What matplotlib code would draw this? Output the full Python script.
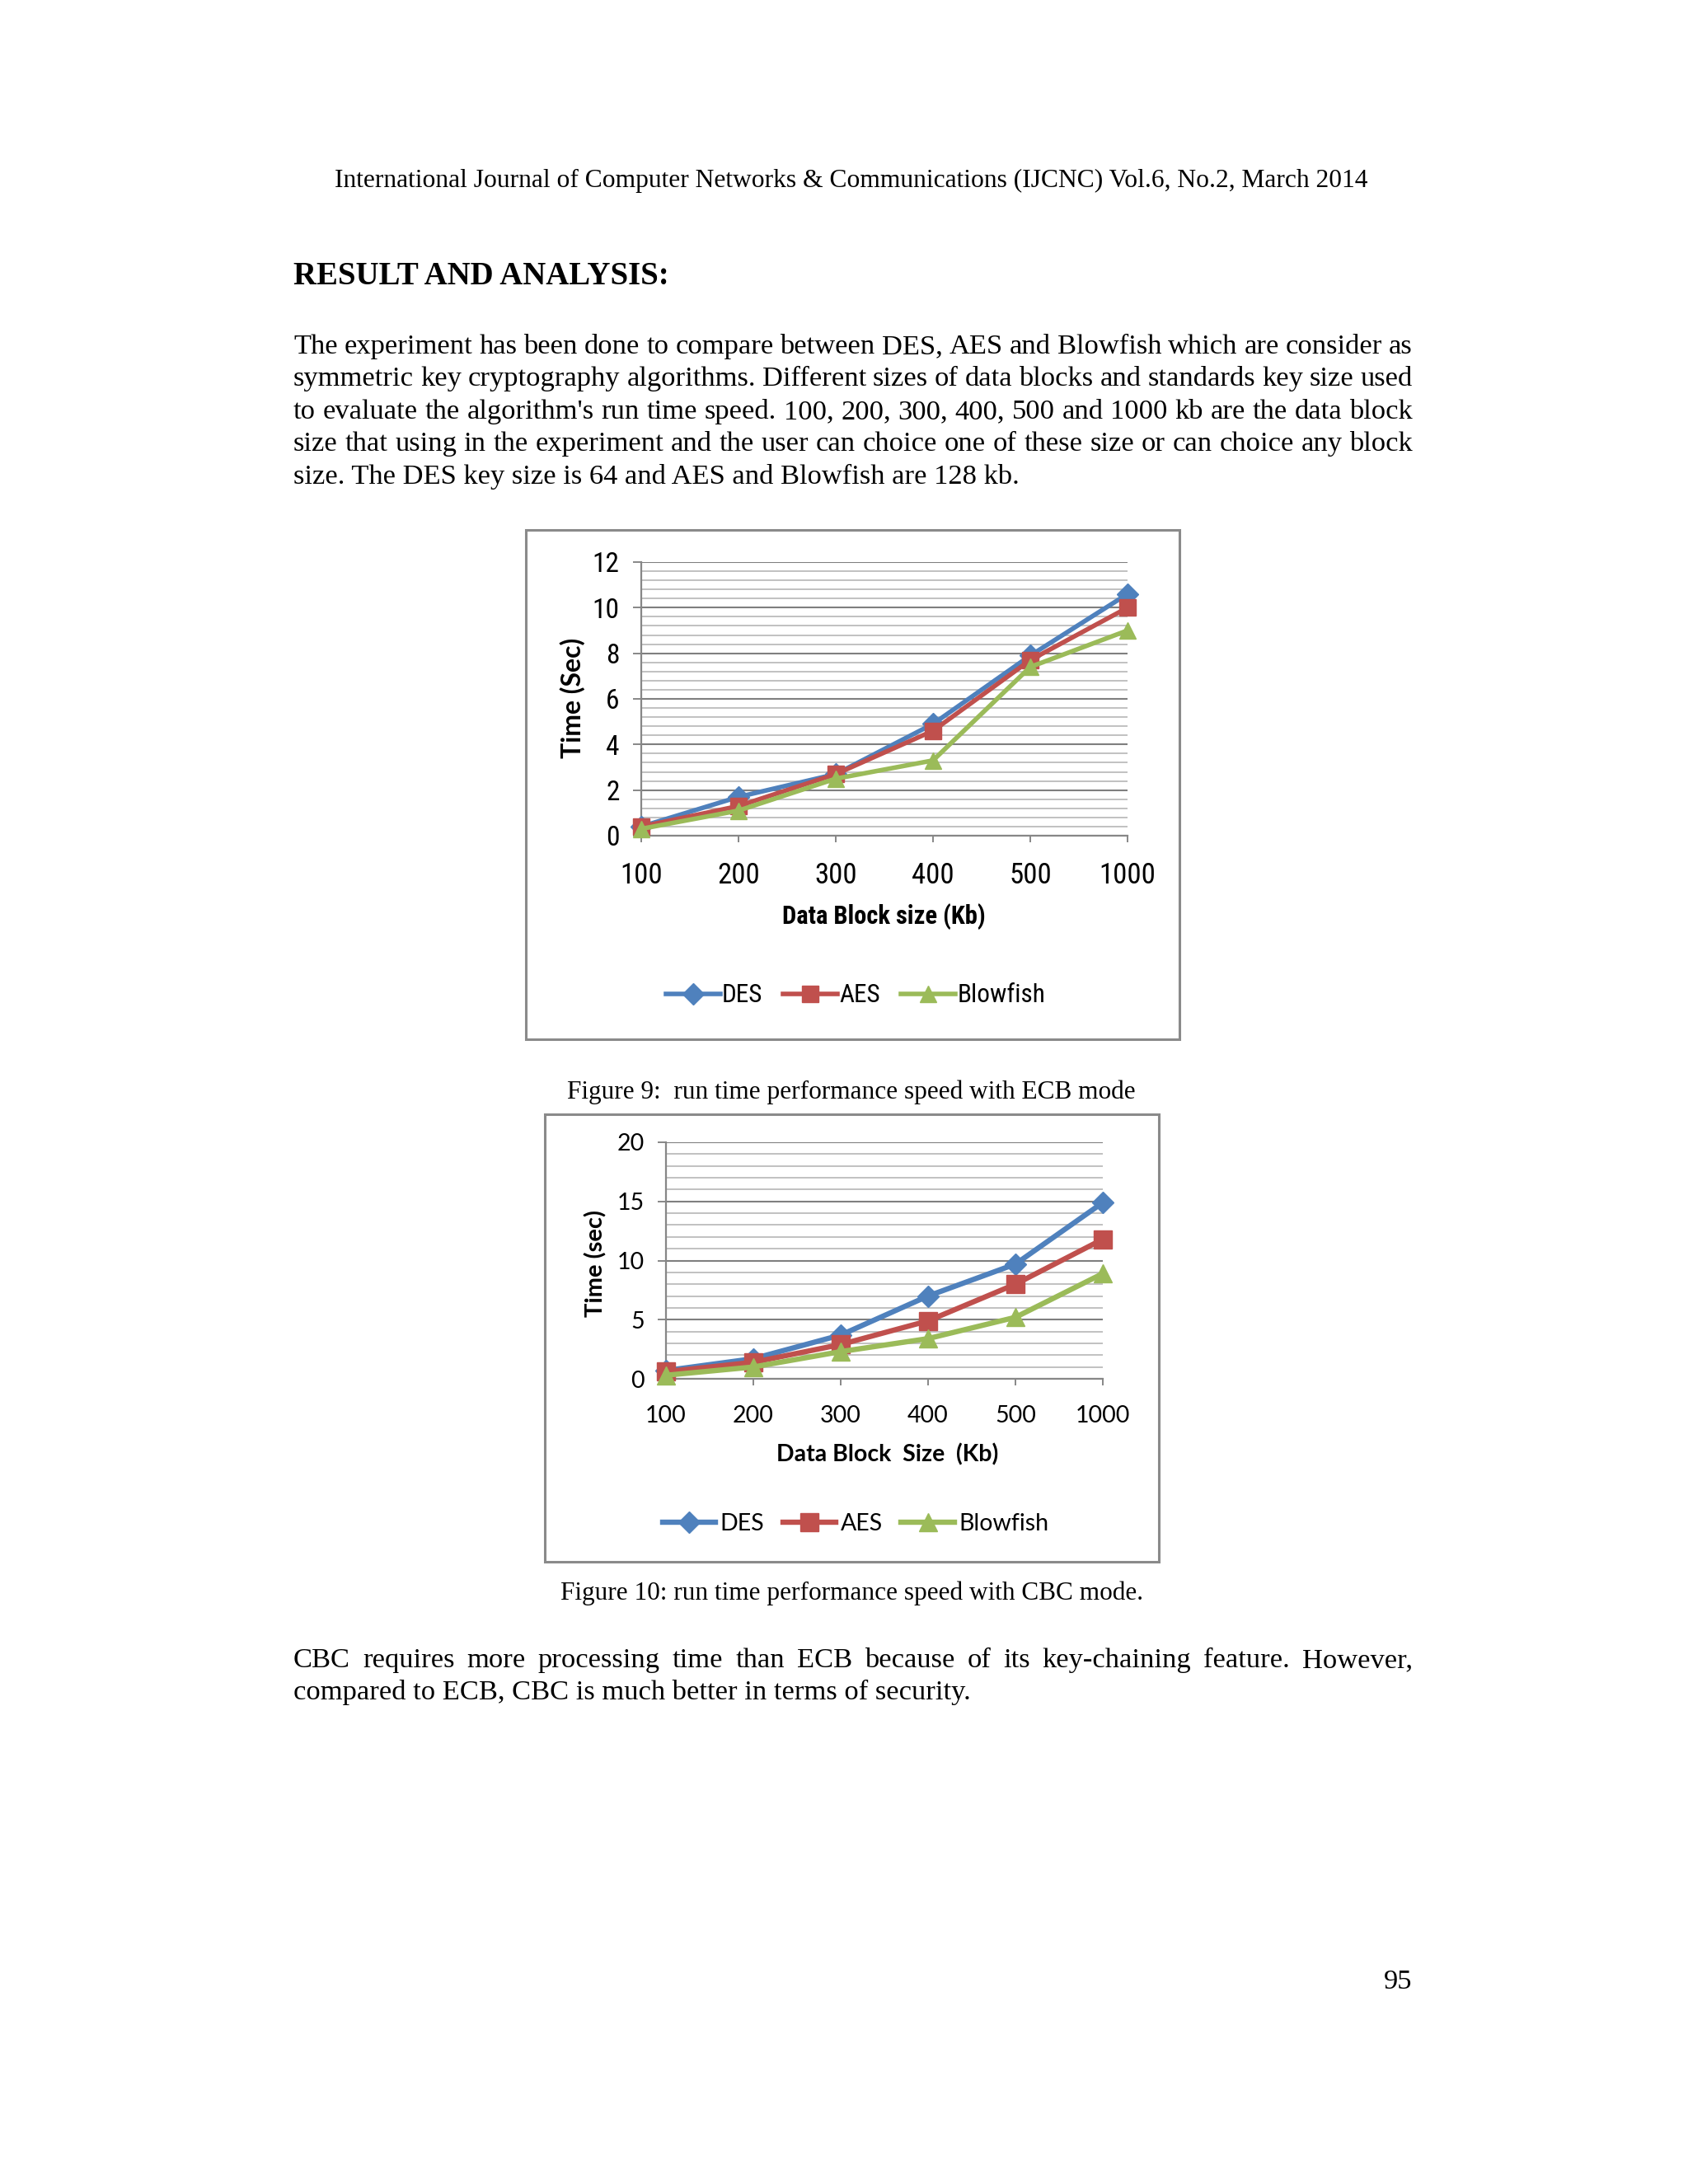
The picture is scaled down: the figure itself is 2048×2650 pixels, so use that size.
import numpy as np
import matplotlib
matplotlib.use("Agg")
import matplotlib.pyplot as plt
from matplotlib.patches import Rectangle
from matplotlib.ticker import AutoMinorLocator, MultipleLocator

W, H = 2048, 2650

# values
block_sizes = ["100", "200", "300", "400", "500", "1000"]
algorithms = ["DES", "AES", "Blowfish"]
ecb_des = [0.4, 1.7, 2.7, 4.9, 7.9, 10.6]
ecb_aes = [0.4, 1.3, 2.7, 4.6, 7.7, 10.0]
ecb_blowfish = [0.3, 1.1, 2.5, 3.3, 7.4, 9.0]
cbc_des = [0.7, 1.7, 3.7, 7.0, 9.7, 14.9]
cbc_aes = [0.6, 1.4, 2.9, 4.9, 8.0, 11.8]
cbc_blowfish = [0.3, 1.0, 2.3, 3.4, 5.2, 8.9]

colors = ["#4F81BD", "#C0504D", "#9BBB59"]
markers = ["D", "s", "^"]

header = "International Journal of Computer Networks & Communications (IJCNC) Vol.6, No.2, March 2014"
heading = "RESULT AND ANALYSIS:"
para1 = [
    "The experiment has been done to compare between DES, AES and Blowfish which are consider as",
    "symmetric key cryptography algorithms. Different sizes of data blocks and standards key size used",
    "to evaluate the algorithm's run time speed. 100, 200, 300, 400, 500 and 1000 kb are the data block",
    "size that using in the experiment and the user can choice one of these size or can choice any block",
    "size. The DES key size is 64 and AES and Blowfish are 128 kb.",
]
para2 = [
    "CBC requires more processing time than ECB because of its key-chaining feature. However,",
    "compared to ECB, CBC is much better in terms of security.",
]
caption1 = "Figure 9:  run time performance speed with ECB mode"
caption2 = "Figure 10: run time performance speed with CBC mode."

SERIF = ["Liberation Serif", "DejaVu Serif"]
NARROW = ["Roboto Condensed", "Archivo Narrow", "Lato", "DejaVu Sans"]
SANS = ["Lato", "DejaVu Sans"]


def fx(x):
    return x / W


def fy(y):
    return 1 - y / H


fig = plt.figure(figsize=(W / 100, H / 100), dpi=100)
fig.patch.set_facecolor("white")
renderer = fig.canvas.get_renderer()

TXT = 24.8
CAP = 22.5

fig.text(fx(1033), fy(227), header, family=SERIF, fontsize=22.7, ha="center", va="baseline")
fig.text(fx(356), fy(345), heading, family=SERIF, fontsize=28, weight="bold", ha="left", va="baseline")


def justified(lines, x0, x1, baselines):
    for i, (line, yb) in enumerate(zip(lines, baselines)):
        if i == len(lines) - 1:
            fig.text(fx(x0), fy(yb), line, family=SERIF, fontsize=TXT, va="baseline")
            continue
        words = line.split()
        texts = [fig.text(0, 0, w, family=SERIF, fontsize=TXT, va="baseline") for w in words]
        widths = [t.get_window_extent(renderer).width for t in texts]
        gap = (x1 - x0 - sum(widths)) / (len(words) - 1)
        x = x0
        for t, w in zip(texts, widths):
            t.set_position((fx(x), fy(yb)))
            x += w + gap


justified(para1, 356, 1714, [429, 468, 508, 547, 587])
justified(para2, 356, 1714, [2023, 2062])

fig.text(fx(1033), fy(1333), caption1, family=SERIF, fontsize=CAP, ha="center", va="baseline")
fig.text(fx(1033), fy(1941), caption2, family=SERIF, fontsize=CAP, ha="center", va="baseline")
fig.text(fx(1713), fy(2413), "95", family=SERIF, fontsize=TXT, ha="right", va="baseline")


def chart(box, area, series, ymax, ystep, font, tick_fs, xtick_fs, xpad, ylab, ylab_xy, ylab_font,
          ylab_fs, xlab, xlab_xy, xlab_fs, leg_xy, leg_fs, hlen, hpad, lw, ms):
    bx0, by0, bx1, by1 = box
    fig.patches.append(Rectangle((fx(bx0), fy(by1)), fx(bx1 - bx0), (by1 - by0) / H,
                                 transform=fig.transFigure, fill=False,
                                 edgecolor="#8a8a8a", linewidth=2.2))
    ax0, ay0, ax1, ay1 = area
    ax = fig.add_axes([fx(ax0), fy(ay1), fx(ax1 - ax0), (ay1 - ay0) / H])
    x = np.arange(len(block_sizes))
    for vals, name, c, m in zip(series, algorithms, colors, markers):
        ax.plot(x, vals, color=c, marker=m, lw=lw, ms=ms if m != "D" else ms * 0.85,
                mec=c, mew=1, label=name, clip_on=False, zorder=3)
    ax.set_xlim(0, len(block_sizes) - 1)
    ax.set_ylim(0, ymax)
    ax.yaxis.set_major_locator(MultipleLocator(ystep))
    ax.yaxis.set_minor_locator(AutoMinorLocator(5))
    ax.set_xticks(x)
    ax.set_xticklabels(block_sizes)
    for s in ["top", "right"]:
        ax.spines[s].set_visible(False)
    for s in ["left", "bottom"]:
        ax.spines[s].set_color("#878787")
        ax.spines[s].set_linewidth(1.6)
    ax.grid(True, axis="y", which="major", color="#7f7f7f", lw=1.5)
    ax.grid(True, axis="y", which="minor", color="#b0b0b0", lw=1.1)
    ax.set_axisbelow(True)
    ax.tick_params(axis="y", which="major", length=7, width=1.4, color="#878787", pad=12,
                   labelsize=tick_fs)
    ax.tick_params(axis="y", which="minor", length=0)
    ax.tick_params(axis="x", length=6, width=1.4, color="#878787", pad=xpad, labelsize=xtick_fs)
    for lab in ax.get_xticklabels() + ax.get_yticklabels():
        lab.set_family(font)
    fig.text(fx(ylab_xy[0]), fy(ylab_xy[1]), ylab, family=ylab_font, fontsize=ylab_fs,
             weight="bold", rotation=90, ha="center", va="center")
    fig.text(fx(xlab_xy[0]), fy(xlab_xy[1]), xlab, family=font, fontsize=xlab_fs,
             weight="bold", ha="center", va="center")
    fig.legend(*ax.get_legend_handles_labels(), loc="center",
               bbox_to_anchor=(fx(leg_xy[0]), fy(leg_xy[1])), ncol=3, frameon=False,
               prop={"family": font, "size": leg_fs}, handlelength=hlen, handletextpad=hpad,
               columnspacing=0.8)
    return ax


chart((638, 643, 1431, 1261), (778, 682, 1368, 1014), [ecb_des, ecb_aes, ecb_blowfish],
      12, 2, NARROW, 24, 25, 17, "Time (Sec)", (695, 847), SANS, 23,
      "Data Block size (Kb)", (1072, 1112), 22, (1038, 1208), 22.5, 2.1, 0.08, 4, 15)

chart((661, 1352, 1406, 1895), (808, 1386, 1338, 1673), [cbc_des, cbc_aes, cbc_blowfish],
      20, 5, SANS, 20.5, 20.5, 17, "Time (sec)", (723, 1533), SANS, 21,
      "Data Block  Size  (Kb)", (1077, 1765), 20.5, (1038, 1849), 20.5, 2.25, 0.2, 4.6, 16)

fig.savefig("out.png", dpi=100, facecolor="white")
